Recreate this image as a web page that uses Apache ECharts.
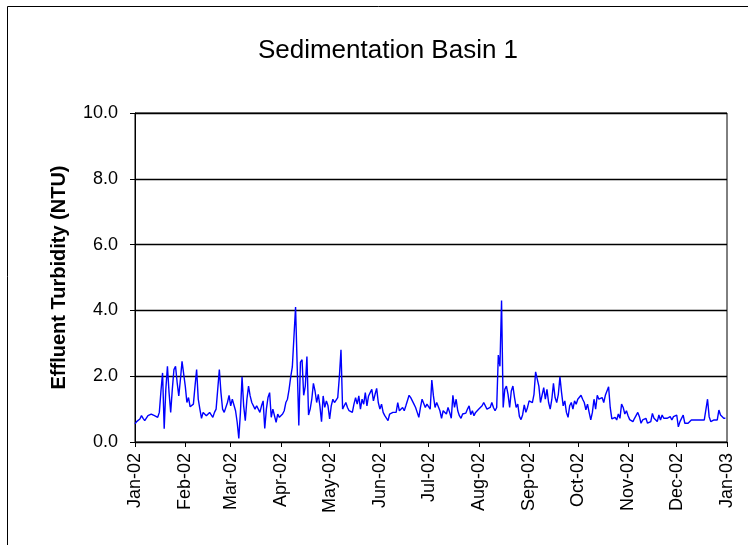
<!DOCTYPE html>
<html>
<head>
<meta charset="utf-8">
<script src="https://cdn.jsdelivr.net/npm/echarts@6/dist/echarts.min.js"></script>
<style>
html,body{margin:0;padding:0;background:#fff;}
#chart{width:748px;height:545px;}
</style>
</head>
<body>
<div id="chart"></div>
<script>
// Month tick labels (month starts, last one is the year end)
var monthLabels = ['Jan-02','Feb-02','Mar-02','Apr-02','May-02','Jun-02','Jul-02','Aug-02','Sep-02','Oct-02','Nov-02','Dec-02','Jan-03'];
var yTicks = [0, 2, 4, 6, 8, 10];

// Daily effluent turbidity (NTU), one array per month of 2002
var jan = [0.55,0.62,0.65,0.7,0.8,0.72,0.65,0.7,0.8,0.75,0.85,0.9,0.8,0.85,0.75,0.9,1.55,2.1,0.4,1.6,2.3,1.5,0.9,1.6,2.2,2.3,1.8,1.4,1.9,2.45,2.45];
var feb = [1.7,1.2,1.35,1.07,1.1,1.15,1.7,2.2,1.3,1.0,0.72,0.9,0.85,0.8,0.75,0.9,0.85,0.75,0.9,1.0,1.6,2.2,1.5,1.0,0.9,0.85,1.2,1.42];
var mar = [1.1,1.3,1.25,0.95,0.6,0.11,0.9,1.98,1.1,0.65,1.3,1.7,1.4,1.2,1.15,1.0,1.1,1.15,0.9,1.1,1.25,0.41,1.0,1.35,1.5,0.75,1.0,0.95,0.6,0.85,0.75];
var apr = [0.72,0.85,0.95,1.2,1.3,1.6,1.98,2.28,3.2,4.1,2.3,0.5,2.43,2.5,1.42,1.7,2.6,0.82,1.0,1.3,1.78,1.55,1.2,1.45,1.1,0.62,1.4,1.05,1.25,1.1];
var may = [0.7,1.1,1.3,1.2,1.15,1.35,1.98,2.8,1.0,1.1,1.2,1.05,0.95,1.0,0.9,1.15,1.35,1.15,1.4,1.0,1.3,1.15,1.5,1.1,1.4,1.5,1.6,1.25,1.45,1.63,1.2];
var jun = [1.0,1.15,0.9,0.8,0.75,0.65,0.85,0.8,0.9,0.9,0.9,1.2,0.95,1.0,1.05,0.95,1.1,1.05,1.42,1.35,1.3,1.15,1.05,0.9,0.75,1.05,1.3,1.25,1.05,1.15];
var jul = [1.2,1.0,1.88,1.4,1.05,1.2,1.15,0.95,0.72,0.95,1.0,0.85,1.05,0.9,0.72,1.42,1.05,1.3,0.95,0.8,0.72,0.85,0.83,0.88,1.0,1.1,0.83,0.95,0.8,0.9,0.85];
var aug = [1.0,0.95,1.1,1.2,1.15,1.0,0.95,1.05,1.2,1.05,0.95,1.05,2.64,2.3,4.3,1.05,1.6,1.7,1.45,1.05,1.55,1.7,1.35,1.05,1.15,0.78,0.68,0.83,1.13,0.9,1.05];
var sep = [1.25,1.3,1.2,1.45,2.13,2.18,1.7,1.2,1.2,1.65,1.3,1.6,1.2,1.0,1.3,1.78,1.35,1.2,1.45,1.98,1.5,1.1,1.25,0.9,0.75,1.1,1.2,1.0,1.25,1.15];
var oct = [1.3,1.25,1.42,1.3,1.2,0.98,1.15,0.9,0.67,0.9,1.3,1.0,1.42,1.3,1.28,1.35,1.2,1.42,1.38,1.68,1.05,0.7,0.67,0.75,0.67,0.85,0.72,1.15,1.05,0.85,0.95];
var nov = [0.8,0.68,0.72,0.62,0.72,0.77,0.9,0.77,0.57,0.67,0.62,0.72,0.57,0.52,0.62,0.87,0.72,0.67,0.62,0.82,0.67,0.82,0.72,0.67,0.72,0.67,0.77,0.67,0.77,0.77];
var dec = [0.82,0.46,0.62,0.57,0.82,0.57,0.57,0.57,0.62,0.67,0.62,0.67,0.72,0.67,0.67,0.67,0.67,0.67,0.67,1.3,0.77,0.62,0.57,0.67,0.62,0.67,0.97,0.82,0.77,0.72,0.72];

var months = [jan,feb,mar,apr,may,jun,jul,aug,sep,oct,nov,dec];

// Build categories (one per day, plus the closing Jan-03 boundary)
var categories = [];
var values = [];
var monthStartIndex = {};
var idx = 0;
months.forEach(function (m, mi) {
  monthStartIndex[idx] = monthLabels[mi];
  m.forEach(function (v, di) {
    categories.push(monthLabels[mi] + '-' + (di + 1));
    values.push(v);
    idx++;
  });
});
monthStartIndex[idx] = monthLabels[12];
categories.push(monthLabels[12]);
values.push(null);

var FONT = 'Liberation Sans, Arial, sans-serif';
var chart = echarts.init(document.getElementById('chart'), null, {renderer: 'canvas'});
chart.setOption({
  animation: false,
  backgroundColor: '#fff',
  textStyle: {fontFamily: FONT},
  title: {
    text: 'Sedimentation Basin 1',
    left: 383, top: 33, textAlign: 'center',
    textStyle: {fontFamily: FONT, fontSize: 26, fontWeight: 'normal', color: '#000'}
  },
  graphic: [{
    type: 'rect', silent: true,
    shape: {x: 7.5, y: 6.5, width: 800, height: 600},
    style: {fill: null, stroke: '#000', lineWidth: 1}
  }],
  grid: {left: 135, right: 21, top: 113, bottom: 103, show: true, borderColor: '#000', borderWidth: 1, backgroundColor: 'transparent'},
  xAxis: {
    type: 'category',
    data: categories,
    boundaryGap: false,
    axisLine: {lineStyle: {color: '#000', width: 1}},
    axisTick: {
      show: true, length: 5, inside: false,
      interval: function (i) { return monthStartIndex[i] !== undefined; },
      lineStyle: {color: '#000'}
    },
    axisLabel: {
      rotate: 90, margin: 11, color: '#000', fontSize: 18,
      fontFamily: FONT,
      interval: function (i) { return monthStartIndex[i] !== undefined; },
      formatter: function (val, i) { return monthStartIndex[i] || ''; }
    },
    splitLine: {show: false}
  },
  yAxis: {
    type: 'value', min: 0, max: 10, interval: 2,
    name: 'Effluent Turbidity (NTU)',
    nameLocation: 'middle', nameRotate: 90, nameGap: 66,
    nameTextStyle: {fontWeight: 'bold', fontSize: 20, color: '#000', fontFamily: FONT},
    axisLine: {show: true, lineStyle: {color: '#000', width: 1}},
    axisTick: {show: true, length: 5, lineStyle: {color: '#000'}},
    axisLabel: {
      color: '#000', fontSize: 18, margin: 17,
      fontFamily: FONT,
      formatter: function (v) { return yTicks.indexOf(v) >= 0 ? v.toFixed(1) : ''; }
    },
    splitLine: {show: true, lineStyle: {color: '#000', width: 1.3}}
  },
  series: [{
    type: 'line',
    data: values,
    showSymbol: false,
    connectNulls: false,
    lineStyle: {color: '#0000ff', width: 1.4},
    itemStyle: {color: '#0000ff'}
  }]
});
</script>
</body>
</html>
